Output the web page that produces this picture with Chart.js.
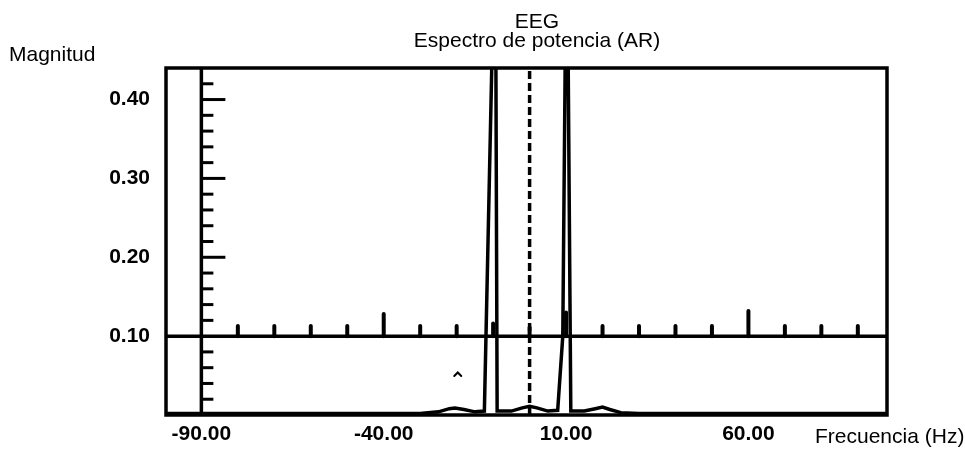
<!DOCTYPE html>
<html><head><meta charset="utf-8">
<script src="https://cdn.jsdelivr.net/npm/chart.js@4.4.1/dist/chart.umd.min.js"></script>
<style>html,body{margin:0;padding:0;background:#fff;overflow:hidden}#wrap{width:965px;height:451px}</style>
</head><body><div id="wrap"><canvas id="c" width="965" height="451"></canvas></div>
<script>
// ---- text ----
const titleLines = ['EEG', 'Espectro de potencia (AR)'];
const yAxisTitle = 'Magnitud';
const xAxisTitle = 'Frecuencia (Hz)';
// ---- tick labels ----
const xLabelTicks = [-90, -40, 10, 60];
const yLabelTicks = [0.10, 0.20, 0.30, 0.40];
// ---- spectrum series ----
const freq = [-99.7, -30, -25, -22, -20.5, -18, -15, -12.4, -9.4, -8.9, -5, -2, 0, 2, 5, 7.7, 9.1, 10.2, 11.3, 15, 18, 20, 22, 25, 30, 98];
const magnitude = [0.002, 0.002, 0.004, 0.008, 0.009, 0.007, 0.004, 0.005, 0.65, 0.005, 0.005, 0.009, 0.011, 0.009, 0.005, 0.006, 0.10, 0.68, 0.005, 0.005, 0.008, 0.010, 0.007, 0.003, 0.002, 0.002];
// ---- dashed centre marker ----
const centreFreq = 0;
// ---- inner axes ----
const axisFreq = -90;          // vertical axis position
const refLevel = 0.10;         // horizontal reference line
const refTickFreq = [-80, -70, -60, -50, -40, -30, -20, -10, 0, 10, 20, 30, 40, 50, 60, 70, 80, 90];
const refTickHeight = [0.013, 0.013, 0.013, 0.013, 0.028, 0.013, 0.013, 0.016, 0.011, 0.03, 0.013, 0.013, 0.013, 0.013, 0.032, 0.013, 0.013, 0.013];
const yMinorTicks = [0.02, 0.04, 0.06, 0.08, 0.12, 0.14, 0.16, 0.18, 0.22, 0.24, 0.26, 0.28, 0.32, 0.34, 0.36, 0.38, 0.42];
const yMajorTicks = [0.20, 0.30, 0.40];
const caretMark = {x: -19.7, y: 0.052};

const FONT = "'Liberation Sans', Arial, Helvetica, sans-serif";

const innerAxes = {
  id: 'innerAxes',
  afterDatasetsDraw(chart) {
    const {ctx, chartArea: a, scales: {x, y}} = chart;
    ctx.save();
    ctx.strokeStyle = '#000';
    ctx.lineCap = 'butt';
    // vertical axis
    const ax = x.getPixelForValue(axisFreq);
    ctx.lineWidth = 3.5;
    ctx.beginPath(); ctx.moveTo(ax, a.top); ctx.lineTo(ax, a.bottom); ctx.stroke();
    // y ticks
    ctx.lineWidth = 3;
    yMinorTicks.forEach(v => {
      const py = y.getPixelForValue(v);
      ctx.beginPath(); ctx.moveTo(ax, py); ctx.lineTo(ax + 12, py); ctx.stroke();
    });
    yMajorTicks.forEach(v => {
      const py = y.getPixelForValue(v);
      ctx.beginPath(); ctx.moveTo(ax, py); ctx.lineTo(ax + 24, py); ctx.stroke();
    });
    // reference line
    const ry = y.getPixelForValue(refLevel);
    ctx.lineWidth = 3.5;
    ctx.beginPath(); ctx.moveTo(a.left, ry); ctx.lineTo(a.right, ry); ctx.stroke();
    ctx.lineWidth = 4;
    ctx.lineCap = 'round';
    refTickFreq.forEach((f, i) => {
      const px = x.getPixelForValue(f);
      ctx.beginPath(); ctx.moveTo(px, ry); ctx.lineTo(px, y.getPixelForValue(refLevel + refTickHeight[i])); ctx.stroke();
    });
    // caret
    const cx = x.getPixelForValue(caretMark.x), cy = y.getPixelForValue(caretMark.y);
    ctx.lineWidth = 2;
    ctx.beginPath(); ctx.moveTo(cx - 3.5, cy + 2); ctx.lineTo(cx, cy - 1.5); ctx.lineTo(cx + 3.5, cy + 2); ctx.stroke();
    // frame
    ctx.lineCap = 'butt';
    ctx.lineWidth = 3.5;
    ctx.strokeRect(a.left, a.top, a.right - a.left, a.bottom - a.top);
    // texts
    ctx.fillStyle = '#000';
    ctx.font = '21px ' + FONT;
    ctx.textAlign = 'center';
    ctx.textBaseline = 'alphabetic';
    const cxT = 537;
    ctx.fillText(titleLines[0], cxT, 28);
    ctx.fillText(titleLines[1], cxT, 47);
    ctx.textAlign = 'left';
    ctx.fillText(yAxisTitle, 9, 61);
    ctx.fillText(xAxisTitle, 815, 443);
    ctx.restore();
  }
};

new Chart(document.getElementById('c'), {
  type: 'line',
  data: {
    datasets: [
      {
        data: freq.map((f, i) => ({x: f, y: magnitude[i]})),
        borderColor: '#000', borderWidth: 3.5, pointRadius: 0, tension: 0, fill: false
      },
      {
        data: [{x: centreFreq, y: 0}, {x: centreFreq, y: 0.44}],
        borderColor: '#000', borderWidth: 3.5, borderDash: [8, 4], pointRadius: 0, fill: false
      }
    ]
  },
  options: {
    responsive: false,
    animation: false,
    devicePixelRatio: 1,
    layout: {padding: {top: 68, right: 78, bottom: 0, left: 0}},
    plugins: {legend: {display: false}, tooltip: {enabled: false}, title: {display: false}},
    scales: {
      x: {
        type: 'linear', min: -99.7, max: 98,
        afterBuildTicks: s => { s.ticks = xLabelTicks.map(v => ({value: v})); },
        afterFit: s => { s.height = 36; },
        grid: {display: false, drawTicks: false},
        border: {display: false},
        ticks: {
          autoSkip: false, maxRotation: 0, padding: 7, color: '#000',
          font: {family: FONT, size: 21, weight: 'bold'},
          callback: v => Number(v).toFixed(2)
        }
      },
      y: {
        type: 'linear', min: 0, max: 0.44,
        afterBuildTicks: s => { s.ticks = yLabelTicks.map(v => ({value: v})); },
        afterFit: s => { s.width = 166; },
        grid: {display: false, drawTicks: false},
        border: {display: false},
        ticks: {
          padding: 16, color: '#000',
          font: {family: FONT, size: 21, weight: 'bold'},
          callback: v => Number(v).toFixed(2)
        }
      }
    }
  },
  plugins: [innerAxes]
});
</script></body></html>
